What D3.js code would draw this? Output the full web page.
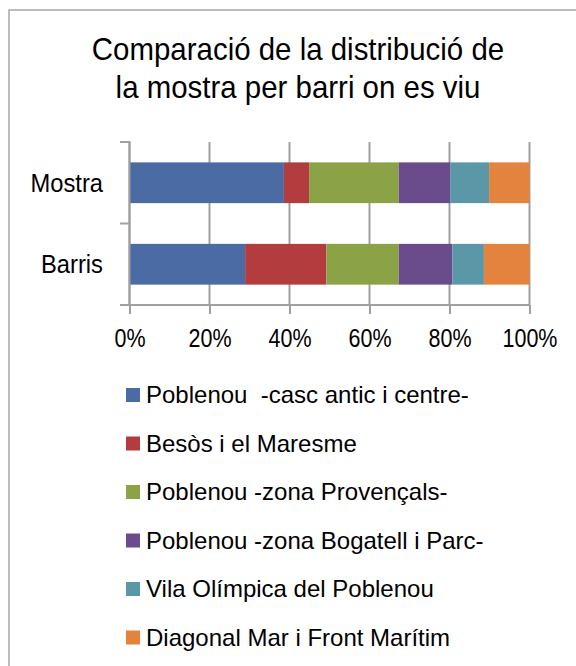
<!DOCTYPE html>
<html><head><meta charset="utf-8">
<script src="https://cdn.jsdelivr.net/npm/d3@7"></script>
<style>body{margin:0;background:#fff}svg{display:block}text{font-family:"Liberation Sans",Arial,sans-serif;fill:#000;white-space:pre}</style>
</head><body>
<script>
const categories = ["Mostra", "Barris"];
const seriesNames = ["Poblenou  -casc antic i centre-", "Besòs i el Maresme", "Poblenou -zona Provençals-", "Poblenou -zona Bogatell i Parc-", "Vila Olímpica del Poblenou", "Diagonal Mar i Front Marítim"];
const mostraValues = [38.6, 6.3, 22.4, 12.9, 9.7, 10.1];
const barrisValues = [28.9, 20.3, 18.1, 13.4, 7.9, 11.4];
const tickValues = [0, 20, 40, 60, 80, 100];
const titleLines = ["Comparació de la distribució de", "la mostra per barri on es viu"];
const colors = ["#4A6BA3", "#B33C3F", "#8BA346", "#6A4C8C", "#5B98A7", "#E3833D"];

const W = 576, H = 666;
const svg = d3.select("body").append("svg").attr("width", W).attr("height", H);
svg.append("rect").attr("x", 9).attr("y", 10).attr("width", 700).attr("height", 800)
  .attr("fill", "#fff").attr("stroke", "#a6a6a6").attr("stroke-width", 1.5);

// title
svg.append("g").selectAll("text").data(titleLines).join("text")
  .attr("transform", (d, i) => `translate(298,${60 + i * 38}) scale(0.95,1)`).attr("text-anchor", "middle")
  .attr("font-size", 31).text(d => d);

const x = d3.scaleLinear().domain([0, 100]).range([129.5, 529.5]);
const y = d3.scaleBand().domain(categories).range([142, 305]).paddingInner(0.5).paddingOuter(0.25);

const data = categories.map((c, i) => {
  const vals = i === 0 ? mostraValues : barrisValues;
  let acc = 0;
  return vals.map((v, j) => { const s = acc; acc += v; return {cat: c, j, x0: s, x1: acc}; });
});

const gray = "#a0a0a0";
// gridlines
svg.append("g").selectAll("line").data(tickValues).join("line")
  .attr("x1", d => x(d)).attr("x2", d => x(d)).attr("y1", 142).attr("y2", 305)
  .attr("stroke", gray).attr("stroke-width", 2);

// bars
svg.append("g").selectAll("g").data(data).join("g").selectAll("rect").data(d => d).join("rect")
  .attr("x", d => x(d.x0)).attr("width", d => x(d.x1) - x(d.x0))
  .attr("y", d => y(d.cat)).attr("height", y.bandwidth()).attr("fill", d => colors[d.j]);

// x axis
const xAxis = svg.append("g").attr("transform", "translate(0,305)")
  .call(d3.axisBottom(x).tickValues(tickValues).tickSize(9).tickFormat(d => d + "%"));
xAxis.select(".domain").remove();
xAxis.append("line").attr("x1", 120).attr("x2", x(100)).attr("stroke", gray).attr("stroke-width", 2);
xAxis.selectAll(".tick line").attr("stroke", gray).attr("stroke-width", 2);
xAxis.selectAll(".tick text").attr("font-size", 25).attr("dy", null).attr("y", null)
  .attr("transform", "translate(0,42) scale(0.86,1)")
  .style("font-family", '"Liberation Sans",Arial,sans-serif').attr("fill", "#000");

// y axis
const yg = svg.append("g");
yg.append("line").attr("x1", 129.5).attr("x2", 129.5).attr("y1", 141).attr("y2", 306).attr("stroke", gray).attr("stroke-width", 2);
const bounds = [142, 142 + y.step(), 305];
yg.selectAll("line.t").data(bounds).join("line").attr("class", "t")
  .attr("x1", 120).attr("x2", 129.5).attr("y1", d => d).attr("y2", d => d).attr("stroke", gray).attr("stroke-width", 2);
yg.selectAll("text").data(categories).join("text")
  .attr("transform", d => `translate(103,${y(d) + y.bandwidth() / 2 + 9}) scale(0.95,1)`).attr("text-anchor", "end")
  .attr("font-size", 25).text(d => d);

// legend
const lg = svg.append("g").selectAll("g").data(seriesNames).join("g")
  .attr("transform", (d, i) => `translate(126,${388 + i * 48.5})`);
lg.append("rect").attr("width", 14).attr("height", 14).attr("fill", (d, i) => colors[i]);
lg.append("text").attr("x", 20).attr("y", 15).attr("font-size", 24).text(d => d);
</script>
</body></html>
